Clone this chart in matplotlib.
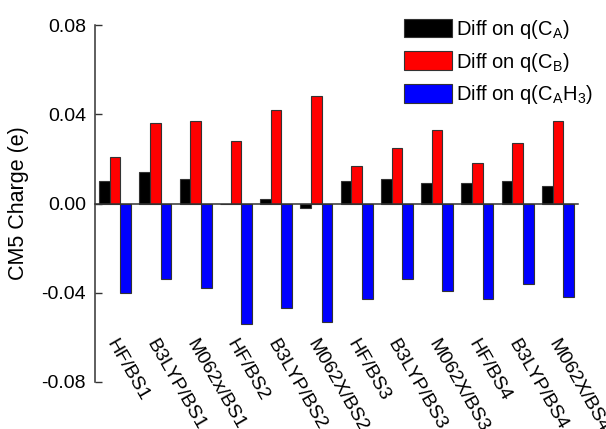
import matplotlib
matplotlib.use("Agg")
import matplotlib.pyplot as plt
import numpy as np

plt.rcParams['font.family'] = ['Liberation Sans', 'DejaVu Sans']
plt.rcParams['mathtext.default'] = 'regular'

methods = ["HF/BS1", "B3LYP/BS1", "M062x/BS1", "HF/BS2", "B3LYP/BS2", "M062X/BS2",
           "HF/BS3", "B3LYP/BS3", "M062X/BS3", "HF/BS4", "B3LYP/BS4", "M062X/BS4"]
diff_ca = [0.010, 0.014, 0.011, 0.000, 0.002, -0.002, 0.010, 0.011, 0.009, 0.009, 0.010, 0.008]
diff_cb = [0.021, 0.036, 0.037, 0.028, 0.042, 0.048, 0.017, 0.025, 0.033, 0.018, 0.027, 0.037]
diff_cah3 = [-0.040, -0.034, -0.038, -0.054, -0.047, -0.053, -0.043, -0.034, -0.039, -0.043, -0.036, -0.042]

series_labels = [r"Diff on q(C$_{A}$)", r"Diff on q(C$_{B}$)", r"Diff on q(C$_{A}$H$_{3}$)"]
colors = ["#000000", "#ff0000", "#0000ff"]

fig = plt.figure(figsize=(6.06, 4.29), dpi=100)
ax = fig.add_axes([95 / 606, 1 - 382 / 429, 483 / 606, 357 / 429])

x = np.arange(len(methods))
w = 0.265
for k, (vals, c, lab) in enumerate(zip([diff_ca, diff_cb, diff_cah3], colors, series_labels)):
    ax.bar(x + (k - 1) * w, vals, width=w, color=c, edgecolor="#333333",
           linewidth=0.8, label=lab, zorder=2)

ax.set_xlim(-0.5, len(methods) - 0.5)
ax.set_ylim(-0.08, 0.08)
ax.set_yticks([-0.08, -0.04, 0.0, 0.04, 0.08])
ax.set_yticklabels(["-0.08", "-0.04", "0.00", "0.04", "0.08"])

for s in ["top", "right"]:
    ax.spines[s].set_visible(False)
ax.spines["bottom"].set_position(("data", 0))
for s in ["left", "bottom"]:
    ax.spines[s].set_linewidth(1.1)
    ax.spines[s].set_color("#333333")

ax.tick_params(axis="y", direction="in", length=5, width=1.0, pad=6.5,
               labelsize=14, color="#333333")
ax.set_xticks(x)
ax.tick_params(axis="x", direction="in", length=5, width=1.0, labelbottom=False,
               color="#333333")

# slanted category names below the bars
for xi, name in zip(x, methods):
    ax.text(xi - 0.13, -0.0615, name, rotation=-60, rotation_mode="anchor",
            ha="left", va="center", fontsize=14)

ax.set_ylabel("CM5 Charge (e)", fontsize=15.5)
ax.yaxis.set_label_coords(-0.137, 0.5)

leg = fig.legend(loc="upper left", bbox_to_anchor=(404 / 606, 1 - 18 / 429),
                 frameon=False, fontsize=14.5, handlelength=2.4, handleheight=1.05,
                 handletextpad=0.2, labelspacing=0.48, borderpad=0, borderaxespad=0)

fig.savefig("out.png", dpi=100)
